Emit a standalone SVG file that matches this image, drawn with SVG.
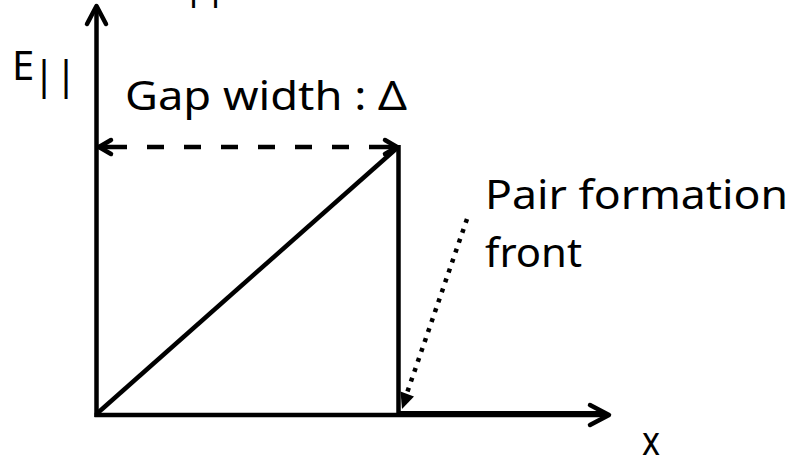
<svg xmlns="http://www.w3.org/2000/svg" width="794" height="457" viewBox="0 0 794 457">
<style>
.t{font-family:"Noto Sans","Open Sans",sans-serif;fill:#000;font-size:40px}
.ln{stroke:#000;fill:none;stroke-width:4.5}
.head{stroke:#000;fill:none;stroke-width:4.5;stroke-linecap:round;stroke-linejoin:round}
</style>
<rect width="794" height="457" fill="#fff"/>
<g id="axes">
  <line class="ln" x1="96.5" y1="417" x2="96.5" y2="7"/>
  <polyline class="head" points="87,24 96.5,6 106,24"/>
  <line class="ln" x1="94.5" y1="415" x2="606" y2="415" stroke-width="5"/>
  <polyline class="head" points="590,405 609,415 590,425" stroke-width="5"/>
</g>
<g id="field">
  <line class="ln" x1="96.5" y1="414" x2="397" y2="148"/>
  <line class="ln" x1="398.5" y1="145" x2="398.5" y2="417" stroke-width="5"/>
  <line class="ln" x1="398.5" y1="413.3" x2="604" y2="413.3" stroke-width="10"/>
</g>
<g id="connectors">
  <line class="ln" x1="98" y1="147" x2="397" y2="147" stroke-width="4" stroke-dasharray="29 20 17 20 17 20 17 20 17 20 17 20 17 20 28 100"/>
  <polyline class="head" points="111,140 99,147 111,154" stroke-width="4"/>
  <polyline class="head" points="385,140 397,147 385,154" stroke-width="4"/>
  <line class="ln" x1="467" y1="219" x2="407" y2="393" stroke-width="4.5" stroke-dasharray="4 6.5"/>
  <polygon points="402,409 414,396.5 400.5,391.5" fill="#000"/>
</g>
<g id="labels">
  <text class="t" x="12" y="80">E</text>
  <text class="t" x="33" y="89" font-size="28">||</text>
  <text class="t" x="182.5" y="-1.6" font-size="20">||</text>
  <text class="t" x="125" y="110" textLength="282" lengthAdjust="spacingAndGlyphs">Gap width : Δ</text>
  <text class="t" x="485" y="209" textLength="303" lengthAdjust="spacingAndGlyphs">Pair formation</text>
  <text class="t" x="485" y="267" textLength="97" lengthAdjust="spacingAndGlyphs">front</text>
  <text class="t" x="642" y="455" textLength="18" lengthAdjust="spacingAndGlyphs">x</text>
</g>
</svg>
